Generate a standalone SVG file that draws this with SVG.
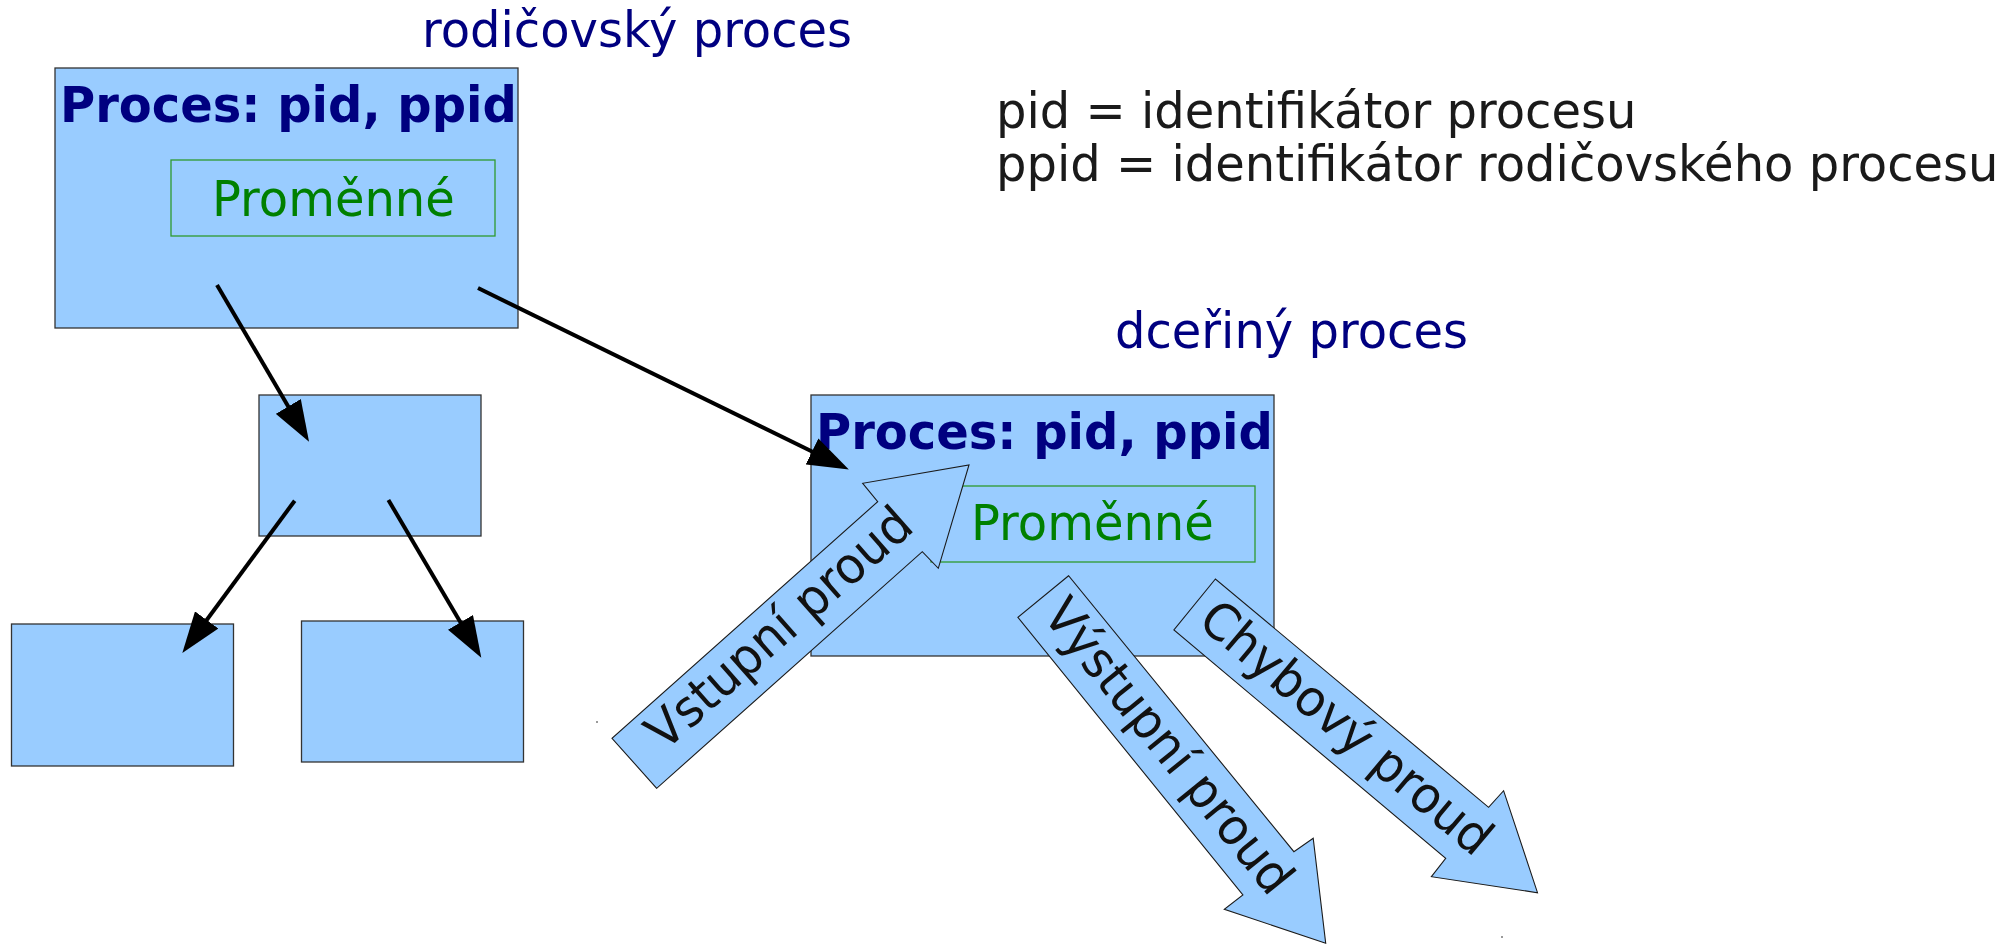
<svg xmlns="http://www.w3.org/2000/svg" width="2012" height="945" viewBox="0 0 2012 945">
  <style>
    text { font-family: "DejaVu Sans", Verdana, sans-serif; font-size: 48px; }
    .box { fill: #99ccff; stroke: #333333; stroke-width: 1.3; }
    .vars { fill: none; stroke: #2e9a2e; stroke-width: 1.3; }
    .title { fill: #000080; font-weight: bold; }
    .caption { fill: #000080; }
    .varsText { fill: #008000; }
    .note { fill: #1a1a1a; }
    .stream { fill: #99ccff; stroke: #1a1a1a; stroke-width: 1.1; stroke-linejoin: miter; }
    .streamText { fill: #111111; text-anchor: middle; }
    .edge { stroke: #000000; stroke-width: 4; fill: none; marker-end: url(#head); }
    .speck { fill: #9a9a9a; }
  </style>
  <defs>
    <marker id="head" viewBox="0 0 41 29" refX="4" refY="14.5" markerWidth="41" markerHeight="29" markerUnits="userSpaceOnUse" orient="auto">
      <path d="M0,0 L41,14.5 L0,29 Z" fill="#000000"/>
    </marker>
  </defs>

  <rect width="2012" height="945" fill="#ffffff"/>

  <!-- captions (glyphs slightly tall: scale 1 x 1.05) -->
  <text class="caption" transform="translate(422,47) scale(1,1.05)">rodičovský proces</text>
  <text class="caption" transform="translate(1115,348) scale(1,1.05)">dceřiný proces</text>
  <g id="legend">
    <text class="note" transform="translate(996,128) scale(1,1.05)"><tspan x="0" y="0">pid = identifikátor procesu</tspan><tspan x="0" y="50.5">ppid = identifikátor rodičovského procesu</tspan></text>
  </g>

  <!-- parent process -->
  <g id="parent">
    <rect class="box" x="55" y="68" width="463" height="260"/>
    <text class="title" transform="translate(60,122) scale(1,1.05)">Proces: pid, ppid</text>
    <rect class="vars" x="171" y="160" width="324" height="76"/>
    <text class="varsText" transform="translate(212,216) scale(1,1.05)">Proměnné</text>
  </g>

  <!-- process tree -->
  <g id="tree-mid"><rect class="box" x="259" y="395" width="222" height="141"/></g>
  <g id="tree-left"><rect class="box" x="11.5" y="624" width="222" height="142"/></g>
  <g id="tree-right"><rect class="box" x="301.5" y="621" width="222" height="141"/></g>

  <!-- child process -->
  <g id="child">
    <rect class="box" x="811" y="395" width="463" height="261"/>
    <text class="title" transform="translate(816,449) scale(1,1.05)">Proces: pid, ppid</text>
    <rect class="vars" x="931" y="486" width="324" height="76"/>
    <text class="varsText" transform="translate(971,540) scale(1,1.05)">Proměnné</text>
  </g>

  <!-- connectors -->
  <g id="connectors">
    <line class="edge" x1="217" y1="285" x2="290.3" y2="409.9"/>
    <line class="edge" x1="294.7" y1="500.7" x2="204.3" y2="623.2"/>
    <line class="edge" x1="388.4" y1="500" x2="462.5" y2="625.8"/>
    <line class="edge" x1="478" y1="288" x2="815.6" y2="453.2"/>
  </g>

  <!-- streams -->
  <g id="stdin">
    <polygon class="stream" points="656.7,788.3 612,738.3 877.7,501.7 862.7,483.3 969,465 938.3,568.3 922.3,551.7"/>
    <text class="streamText" transform="translate(781,630) rotate(-41.5) scale(1,1.05)" x="0" y="13.5">Vstupní proud</text>
  </g>
  <g id="stdout">
    <polygon class="stream" points="1068.6,575.7 1017.9,617.3 1242.9,895 1224.3,909.3 1325.7,943.3 1313.2,838.3 1293.9,851.7"/>
    <text class="streamText" transform="translate(1166.5,748) rotate(51) scale(1,1.05)" x="0" y="13.5">Výstupní proud</text>
  </g>
  <g id="stderr">
    <polygon class="stream" points="1215.4,579 1173.9,630 1445.7,858.3 1431.4,876.7 1537.5,892.7 1503.6,790.7 1488.6,807.3"/>
    <text class="streamText" transform="translate(1344.5,730) rotate(40) scale(1,1.05)" x="0" y="13.5">Chybový proud</text>
  </g>

  <rect class="speck" x="596" y="721" width="2" height="2"/>
  <rect class="speck" x="1501" y="936" width="2" height="2"/>
</svg>
